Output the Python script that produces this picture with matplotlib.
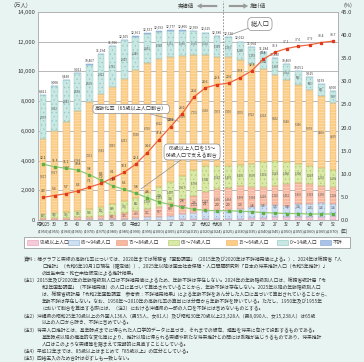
import matplotlib
matplotlib.use("Agg")
import matplotlib.pyplot as plt
from matplotlib.patches import Rectangle, FancyArrowPatch
import numpy as np

plt.rcParams['font.family'] = ['Noto Sans CJK JP', 'DejaVu Sans']
plt.rcParams['hatch.linewidth'] = 0.35

# ---- data (万人 / %) ----
era_labels = ["昭和25", "30", "35", "40", "45", "50", "55", "60", "平成2", "7",
              "12", "17", "22", "27", "令和2", "令和6", "7", "12", "17", "22",
              "27", "32", "37", "42", "47", "52"]
year_labels = ["(1950)", "(1955)", "(1960)", "(1965)", "(1970)", "(1975)",
               "(1980)", "(1985)", "(1990)", "(1995)", "(2000)", "(2005)",
               "(2010)", "(2015)", "(2020)", "(2024)", "(2025)", "(2030)",
               "(2035)", "(2040)", "(2045)", "(2050)", "(2055)", "(2060)",
               "(2065)", "(2070)"]
total = [8411, 9008, 9430, 9921, 10467, 11194, 11706, 12105, 12361, 12557,
         12693, 12777, 12806, 12709, 12615, 12380, 12326, 12012, 11664, 11284,
         10880, 10469, 10051, 9615, 9159, 8700]
age_0_14 = [2979, 3012, 2843, 2553, 2515, 2722, 2751, 2603, 2249, 2001,
            1847, 1752, 1680, 1595, 1503, 1383, 1363, 1240, 1169, 1142,
            1103, 1041, 966, 893, 831, 798]
age_15_64 = [5017, 5517, 6047, 6744, 7212, 7581, 7883, 8251, 8590, 8716,
             8622, 8409, 8103, 7735, 7509, 7373, 7310, 7076, 6722, 6214,
             5832, 5540, 5306, 5078, 4809, 4535]
age_65_74 = [309, 338, 376, 435, 516, 602, 699, 776, 892, 1109,
             1301, 1407, 1517, 1752, 1742, 1547, 1497, 1435, 1535, 1701,
             1643, 1480, 1300, 1247, 1239, 1166]
age_75_84 = [93, 120, 139, 161, 187, 237, 301, 378, 459, 502,
             677, 878, 1047, 1132, 1247, 1395, 1464, 1498, 1364, 1228,
             1310, 1462, 1435, 1318, 1150, 1108]
age_85_94 = [14, 19, 25, 28, 36, 47, 66, 92, 141, 216,
             224, 268, 343, 450, 553, 612, 620, 680, 772, 858,
             808, 756, 852, 880, 904, 840]
age_95 = [0, 0, 0, 0, 0, 0, 0, 0, 0, 0,
          0, 25, 41, 45, 61, 70, 72, 83, 102, 141,
          184, 190, 192, 199, 226, 253]
unknown = [0, 2, 0, 0, 1, 5, 6, 5, 30, 13,
           22, 38, 75, 0, 0, 0, 0, 0, 0, 0,
           0, 0, 0, 0, 0, 0]
aging_rate = [4.9, 5.3, 5.7, 6.3, 7.1, 7.9, 9.1, 10.3, 12.1, 14.6,
              17.4, 20.2, 23.0, 26.6, 28.6, 29.3, 29.6, 30.8, 32.3, 34.8,
              36.3, 37.1, 37.6, 37.9, 38.4, 38.7]
support_ratio = [12.1, 11.5, 11.2, 10.8, 9.8, 8.6, 7.4, 6.6, 5.8, 4.8,
                 3.9, 3.3, 2.8, 2.3, 2.1, 2.0, 2.0, 1.9, 1.8, 1.6,
                 1.5, 1.4, 1.4, 1.3, 1.3, 1.3]

legend_labels = ["95歳以上人口", "85～94歳人口", "75～84歳人口", "65～74歳人口",
                 "15～64歳人口", "0～14歳人口", "不詳"]

notes = [
    (24, "資料：棒グラフと実線の高齢化率については、2020年までは総務省「国勢調査」（2015年及び2020年は不詳補完値による。）、2024年は総務省「人"),
    (42, "口推計」（令和6年10月1日現在（確定値））、2025年以降は国立社会保障・人口問題研究所「日本の将来推計人口（令和5年推計）」"),
    (42, "の出生中位・死亡中位仮定による推計結果。"),
    (21, "（注1）2015年及び2020年の年齢階級別人口は不詳補完値によるため、年齢不詳は存在しない。2024年の年齢階級別人口は、総務省統計局「令"),
    (42, "和2年国勢調査」（不詳補完値）の人口に基づいて算出されていることから、年齢不詳は存在しない。2025年以降の年齢階級別人口"),
    (42, "は、総務省統計局「令和2年国勢調査　参考表：不詳補完結果」による年齢不詳をあん分した人口に基づいて算出されていることから、"),
    (42, "年齢不詳は存在しない。なお、1950年～2010年の高齢化率の算出には分母から年齢不詳を除いている。ただし、1950年及び1955年"),
    (42, "において割合を算出する際には、（注2）における沖縄県の一部の人口を不詳には含めないものとする。"),
    (21, "（注2）沖縄県の昭和25年70歳以上の外国人136人（男55人、女81人）及び昭和30年70歳以上23,328人（男8,090人、女15,238人）は65歳"),
    (42, "以上の人口から除き、不詳に含めている。"),
    (21, "（注3）将来人口推計とは、基準時点までに得られた人口学的データに基づき、それまでの傾向、趨勢を将来に向けて投影するものである。"),
    (42, "基準時点以降の構造的な変化等により、推計以降に得られる実績や新たな将来推計との間には乖離が生じうるものであり、将来推計"),
    (42, "人口はこのような実績等を踏まえて定期的に見直すこととしている。"),
    (21, "（注4）平成12年までは、85歳以上はまとめて「85歳以上」の区分としている。"),
    (21, "（注5）四捨五入のため合計は必ずしも一致しない。"),
]

# ---- style ----
BG = "#e8f4f1"
TXT = "#3a3a3a"
GRID = "#a6a6a6"
# (face, hatch, hatch colour, outline) bottom -> top
seg_styles = [
    ("#f6cbd9", "", "#e8a9bf", "#e29ab3"),        # 95+
    ("#cfe0f1", "....", "#8fb3d6", "#8fb3d6"),    # 85-94
    ("#f7b8a0", "------", "#fde3d8", "#e8957a"),  # 75-84
    ("#dbe9a6", "....", "#a9c76a", "#a9c76a"),    # 65-74
    ("#fbcd86", "------", "#fde9c8", "#eab066"),  # 15-64
    ("#c9e7e3", "....", "#8cc7c0", "#8cc7c0"),    # 0-14
    ("#a9c3e6", "", "#7fa2d2", "#7fa2d2"),        # unknown
]
segments = [age_95, age_85_94, age_75_84, age_65_74, age_15_64, age_0_14, unknown]
labelled = [False, False, True, True, True, True, False]

W, H = 364, 362
fig = plt.figure(figsize=(W / 100, H / 100), dpi=100)
fig.patch.set_facecolor(BG)


def fx(px):
    return px / W


def fy(py):
    return 1 - py / H


ax = fig.add_axes([fx(38), fy(220), fx(338) - fx(38), fy(12) - fy(220)])
ax.set_facecolor("white")
x = np.arange(len(total))
ax.set_xlim(-0.43, 25.43)
ax.set_ylim(0, 14000)

for yv in range(2000, 14000, 2000):
    ax.axhline(yv, color=GRID, lw=0.55, zorder=0)

bottom = np.zeros(len(total))
for vals, (face, hatch, hcol, ecol), lab_on in zip(segments, seg_styles, labelled):
    vals = np.array(vals, dtype=float)
    ax.bar(x, vals, bottom=bottom, width=0.6, color=face, hatch=hatch,
           edgecolor=hcol, linewidth=0, zorder=2)
    ax.bar(x, vals, bottom=bottom, width=0.6, fill=False,
           edgecolor=ecol, linewidth=0.3, zorder=3)
    if lab_on:
        for i, v in enumerate(vals):
            if v >= 300:
                ax.text(x[i], bottom[i] + v / 2, f"{int(v):,}", ha="center",
                        va="center", fontsize=2.0, color="#555555", zorder=4)
    bottom += vals

for i, t in enumerate(total):
    ax.text(x[i], bottom[i] + 120, f"{t:,}", ha="center", va="bottom",
            fontsize=2.4, color=TXT, zorder=4)

ax.set_yticks(range(0, 14001, 2000))
ax.set_yticklabels([f"{v:,}" for v in range(0, 14001, 2000)], fontsize=4.2,
                   color=TXT)
ax.tick_params(axis="y", length=0, pad=2)
ax.set_xticks([])
for s in ax.spines.values():
    s.set_color(GRID)
    s.set_linewidth(0.6)

ax2 = ax.twinx()
ax2.set_ylim(0, 45)
ax2.set_yticks(np.arange(0, 46, 5))
ax2.set_yticklabels([f"{v:.1f}" for v in np.arange(0, 46, 5)], fontsize=4.2,
                    color=TXT)
ax2.tick_params(axis="y", length=0, pad=2)
for s in ax2.spines.values():
    s.set_visible(False)

ax2.plot(x, support_ratio, color="#8fcb72", lw=0.9, marker="s", ms=1.8,
         mfc="#5fae45", mec="#5fae45", zorder=5)
ax2.plot(x, aging_rate, color="#f0643c", lw=0.9, marker="s", ms=1.8,
         mfc="#e03a1c", mec="#e03a1c", zorder=6)
for i in range(len(x)):
    ax2.text(x[i], aging_rate[i] + 0.9, f"{aging_rate[i]:.1f}", ha="center",
             va="bottom", fontsize=2.4, color=TXT, zorder=7)
    ax2.text(x[i], support_ratio[i] + 0.9, f"{support_ratio[i]:.1f}",
             ha="center", va="bottom", fontsize=2.4, color=TXT, zorder=7)

# dashed divider between actual and projected
ax.plot([15.5, 15.5], [0, 14750], ls=(0, (2.2, 1.6)), color="#8c8c8c",
        lw=0.6, clip_on=False, zorder=6)

bbox = dict(boxstyle="round,pad=0.4,rounding_size=0.7", fc="white",
            ec="#8c8c8c", lw=0.5)
line_kw = dict(arrowstyle="-", color="#8c8c8c", lw=0.5, shrinkA=0, shrinkB=0)
ax.annotate("総人口", xy=(16.1, 12450), xytext=(18.7, 13190), fontsize=4.6,
            color=TXT, ha="center", va="center", bbox=bbox, zorder=8,
            arrowprops=line_kw)
ax.annotate("高齢化率（65歳以上人口割合）", xy=(11.7, 6650), xytext=(7.6, 7470),
            fontsize=3.7, color=TXT, ha="center", va="center", bbox=bbox,
            zorder=8, arrowprops=line_kw)
ax.annotate("65歳以上人口を15～\n64歳人口で支える割合", xy=(8.45, 2090),
            xytext=(12.85, 4580), fontsize=3.7, color=TXT, ha="center",
            va="center", linespacing=1.3, bbox=bbox, zorder=8,
            arrowprops=line_kw)

# x tick labels (two rows)
for i in range(len(x)):
    xp = fx(43 + i * 11.6)
    fig.text(xp, fy(224.5), era_labels[i], ha="center", va="center",
             fontsize=3.2, color=TXT)
    fig.text(xp, fy(231), year_labels[i], ha="center", va="center",
             fontsize=2.9, color=TXT)
fig.text(fx(341), fy(231), "(年)", ha="left", va="center", fontsize=3.2,
         color=TXT)

# axis unit labels
fig.text(fx(14), fy(5), "(万人)", ha="left", va="center", fontsize=4.0,
         color=TXT)
fig.text(fx(343), fy(5), "(%)", ha="left", va="center", fontsize=4.0,
         color=TXT)

# actual / projected header
fig.text(fx(186), fy(6), "実績値", ha="center", va="center", fontsize=3.9,
         color=TXT)
fig.text(fx(258), fy(6), "推計値", ha="center", va="center", fontsize=3.9,
         color=TXT)
arrow_kw = dict(arrowstyle="simple,head_length=0.5,head_width=0.55,tail_width=0.22",
                fc="#9a9a9a", ec="none")
fig.patches.append(FancyArrowPatch(
    (fx(220), fy(6)), (fx(194), fy(6)), transform=fig.transFigure,
    mutation_scale=7, **arrow_kw))
fig.patches.append(FancyArrowPatch(
    (fx(226), fy(6)), (fx(251), fy(6)), transform=fig.transFigure,
    mutation_scale=7, **arrow_kw))

# legend (manual)
fig.patches.append(Rectangle((fx(24), fy(248)), fx(350) - fx(24),
                             fy(237) - fy(248), transform=fig.transFigure,
                             fc="white", ec="#8c8c8c", lw=0.5))
legend_x = [27, 68, 116, 168, 226, 277, 320]
for lx, lab, (face, hatch, hcol, ecol) in zip(legend_x, legend_labels, seg_styles):
    fig.patches.append(Rectangle((fx(lx), fy(245)), fx(11), fy(240) - fy(245),
                                 transform=fig.transFigure, fc=face,
                                 ec=ecol, lw=0.4))
    fig.text(fx(lx + 12.5), fy(242.6), lab, ha="left", va="center",
             fontsize=3.5, color=TXT)

# notes
for k, (nx, line) in enumerate(notes):
    fig.text(fx(nx), fy(259.5 + k * 7.05), line, ha="left", va="center",
             fontsize=3.45, color=TXT)

fig.savefig("out.png", dpi=100, facecolor=BG)
